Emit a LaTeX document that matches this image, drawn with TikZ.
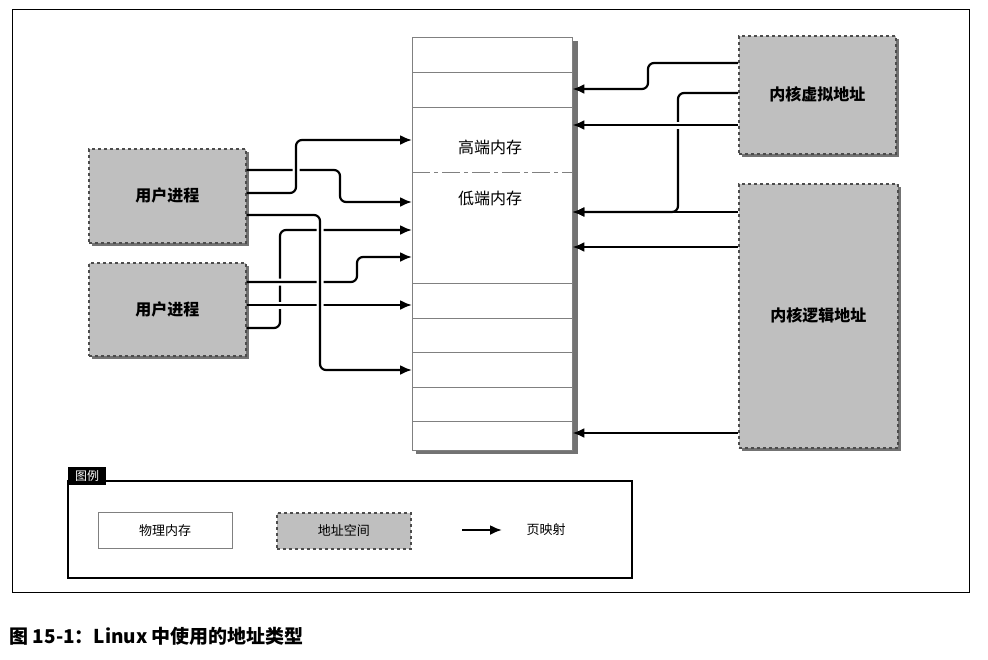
\documentclass[tikz,border=0pt]{standalone}
\usepackage{fontspec}
\setmainfont{Noto Sans CJK SC}
\usetikzlibrary{arrows.meta}
\begin{document}
\begin{tikzpicture}[x=1pt,y=-1pt,
  space/.style={draw=black!70,dashed,fill=black!25,line width=1.5pt,font=\bfseries\fontsize{16}{18}\selectfont},
  shad/.style={fill=black!55},
  map/.style={line width=2.2pt,-{Latex[length=12pt,width=10pt]},rounded corners=6pt},
  halo/.style={preaction={draw=white,line width=7pt,arrows=-,shorten <=4pt,shorten >=14pt}},
  cell/.style={draw=black!50,line width=0.8pt}]
\useasboundingbox (0,0) rectangle (988,659);
\draw[line width=0.8pt] (12,9) rectangle (969,592);
% memory column
\fill[shad] (416,41) rectangle (578,454);
\node[draw=black!50,fill=white,minimum width=160,minimum height=413,inner sep=0,anchor=north west] (mem) at (412,37) {};
\foreach \y in {72,107,283,318,352,387,421} \draw[cell] (412,\y) -- (572,\y);
\draw[cell,dash pattern=on 18pt off 4pt on 4pt off 4pt] (412,172) -- (572,172);
\node[font=\fontsize{16}{18}\selectfont] (hi) at (490,147) {高端内存};
\node[font=\fontsize{16}{18}\selectfont] (lo) at (490,198) {低端内存};
% process boxes
\fill[shad] (92,152) rectangle (249,246);
\node[space,minimum width=157,minimum height=94,anchor=north west] (u1) at (88,148) {用户进程};
\fill[shad] (92,266) rectangle (249,359);
\node[space,minimum width=157,minimum height=93,anchor=north west] (u2) at (88,262) {用户进程};
\fill[shad] (742,39) rectangle (899,157);
\node[space,minimum width=157,minimum height=118,anchor=north west] (kv) at (738,35) {内核虚拟地址};
\fill[shad] (742,187) rectangle (901,451);
\node[space,minimum width=159,minimum height=264,anchor=north west] (kl) at (738,183) {内核逻辑地址};
% left arrows
\draw[map] (u1.east |- 0,170) -- (340,170) -- (340,202) -- (mem.west |- 0,202);
\draw[map,halo] (u1.east |- 0,193) -- (296,193) -- (296,140) -- (mem.west |- 0,140);
\draw[map] (u2.east |- 0,328) -- (280,328) -- (280,230) -- (mem.west |- 0,230);
\draw[map,halo] (u2.east |- 0,282) -- (357,282) -- (357,257) -- (mem.west |- 0,257);
\draw[map,halo] (u2.east |- 0,305) -- (mem.west |- 0,305);
\draw[map,halo] (u1.east |- 0,215) -- (320,215) -- (320,370) -- (mem.west |- 0,370);
% right arrows
\draw[map] (kv.west |- 0,63) -- (648,63) -- (648,89) -- (mem.east |- 0,89);
\draw[map] (kv.west |- 0,93) -- (678,93) -- (678,212) -- (mem.east |- 0,212);
\draw[map,halo] (kv.west |- 0,125) -- (mem.east |- 0,125);
\draw[map] (kl.west |- 0,212) -- (mem.east |- 0,212);
\draw[map] (kl.west |- 0,247) -- (mem.east |- 0,247);
\draw[map] (kl.west |- 0,433) -- (mem.east |- 0,433);
% legend
\draw[line width=1.6pt] (68,481) rectangle (632,578);
\node[fill=black,text=white,inner sep=2pt,anchor=south west,font=\fontsize{12}{14}\selectfont,minimum height=18,minimum width=38] (tag) at (68,485) {图例};
\node[draw=black!50,fill=white,minimum width=134,minimum height=36,anchor=north west,font=\fontsize{13}{15}\selectfont] (lp) at (98,512) {物理内存};
\node[draw=black!70,dashed,line width=1.5pt,fill=black!25,minimum width=134,minimum height=36,anchor=north west,font=\fontsize{13}{15}\selectfont] (ls) at (276,512) {地址空间};
\coordinate (la) at (462,530);
\coordinate (lb) at (502,530);
\draw[map] (la) -- (lb);
\node[font=\fontsize{13}{15}\selectfont] (lm) at (546,530) {页映射};
% caption
\node[anchor=west,font=\bfseries\fontsize{19}{22}\selectfont] (cap) at (6,636) {图 15-1：Linux 中使用的地址类型};
\end{tikzpicture}
\end{document}
